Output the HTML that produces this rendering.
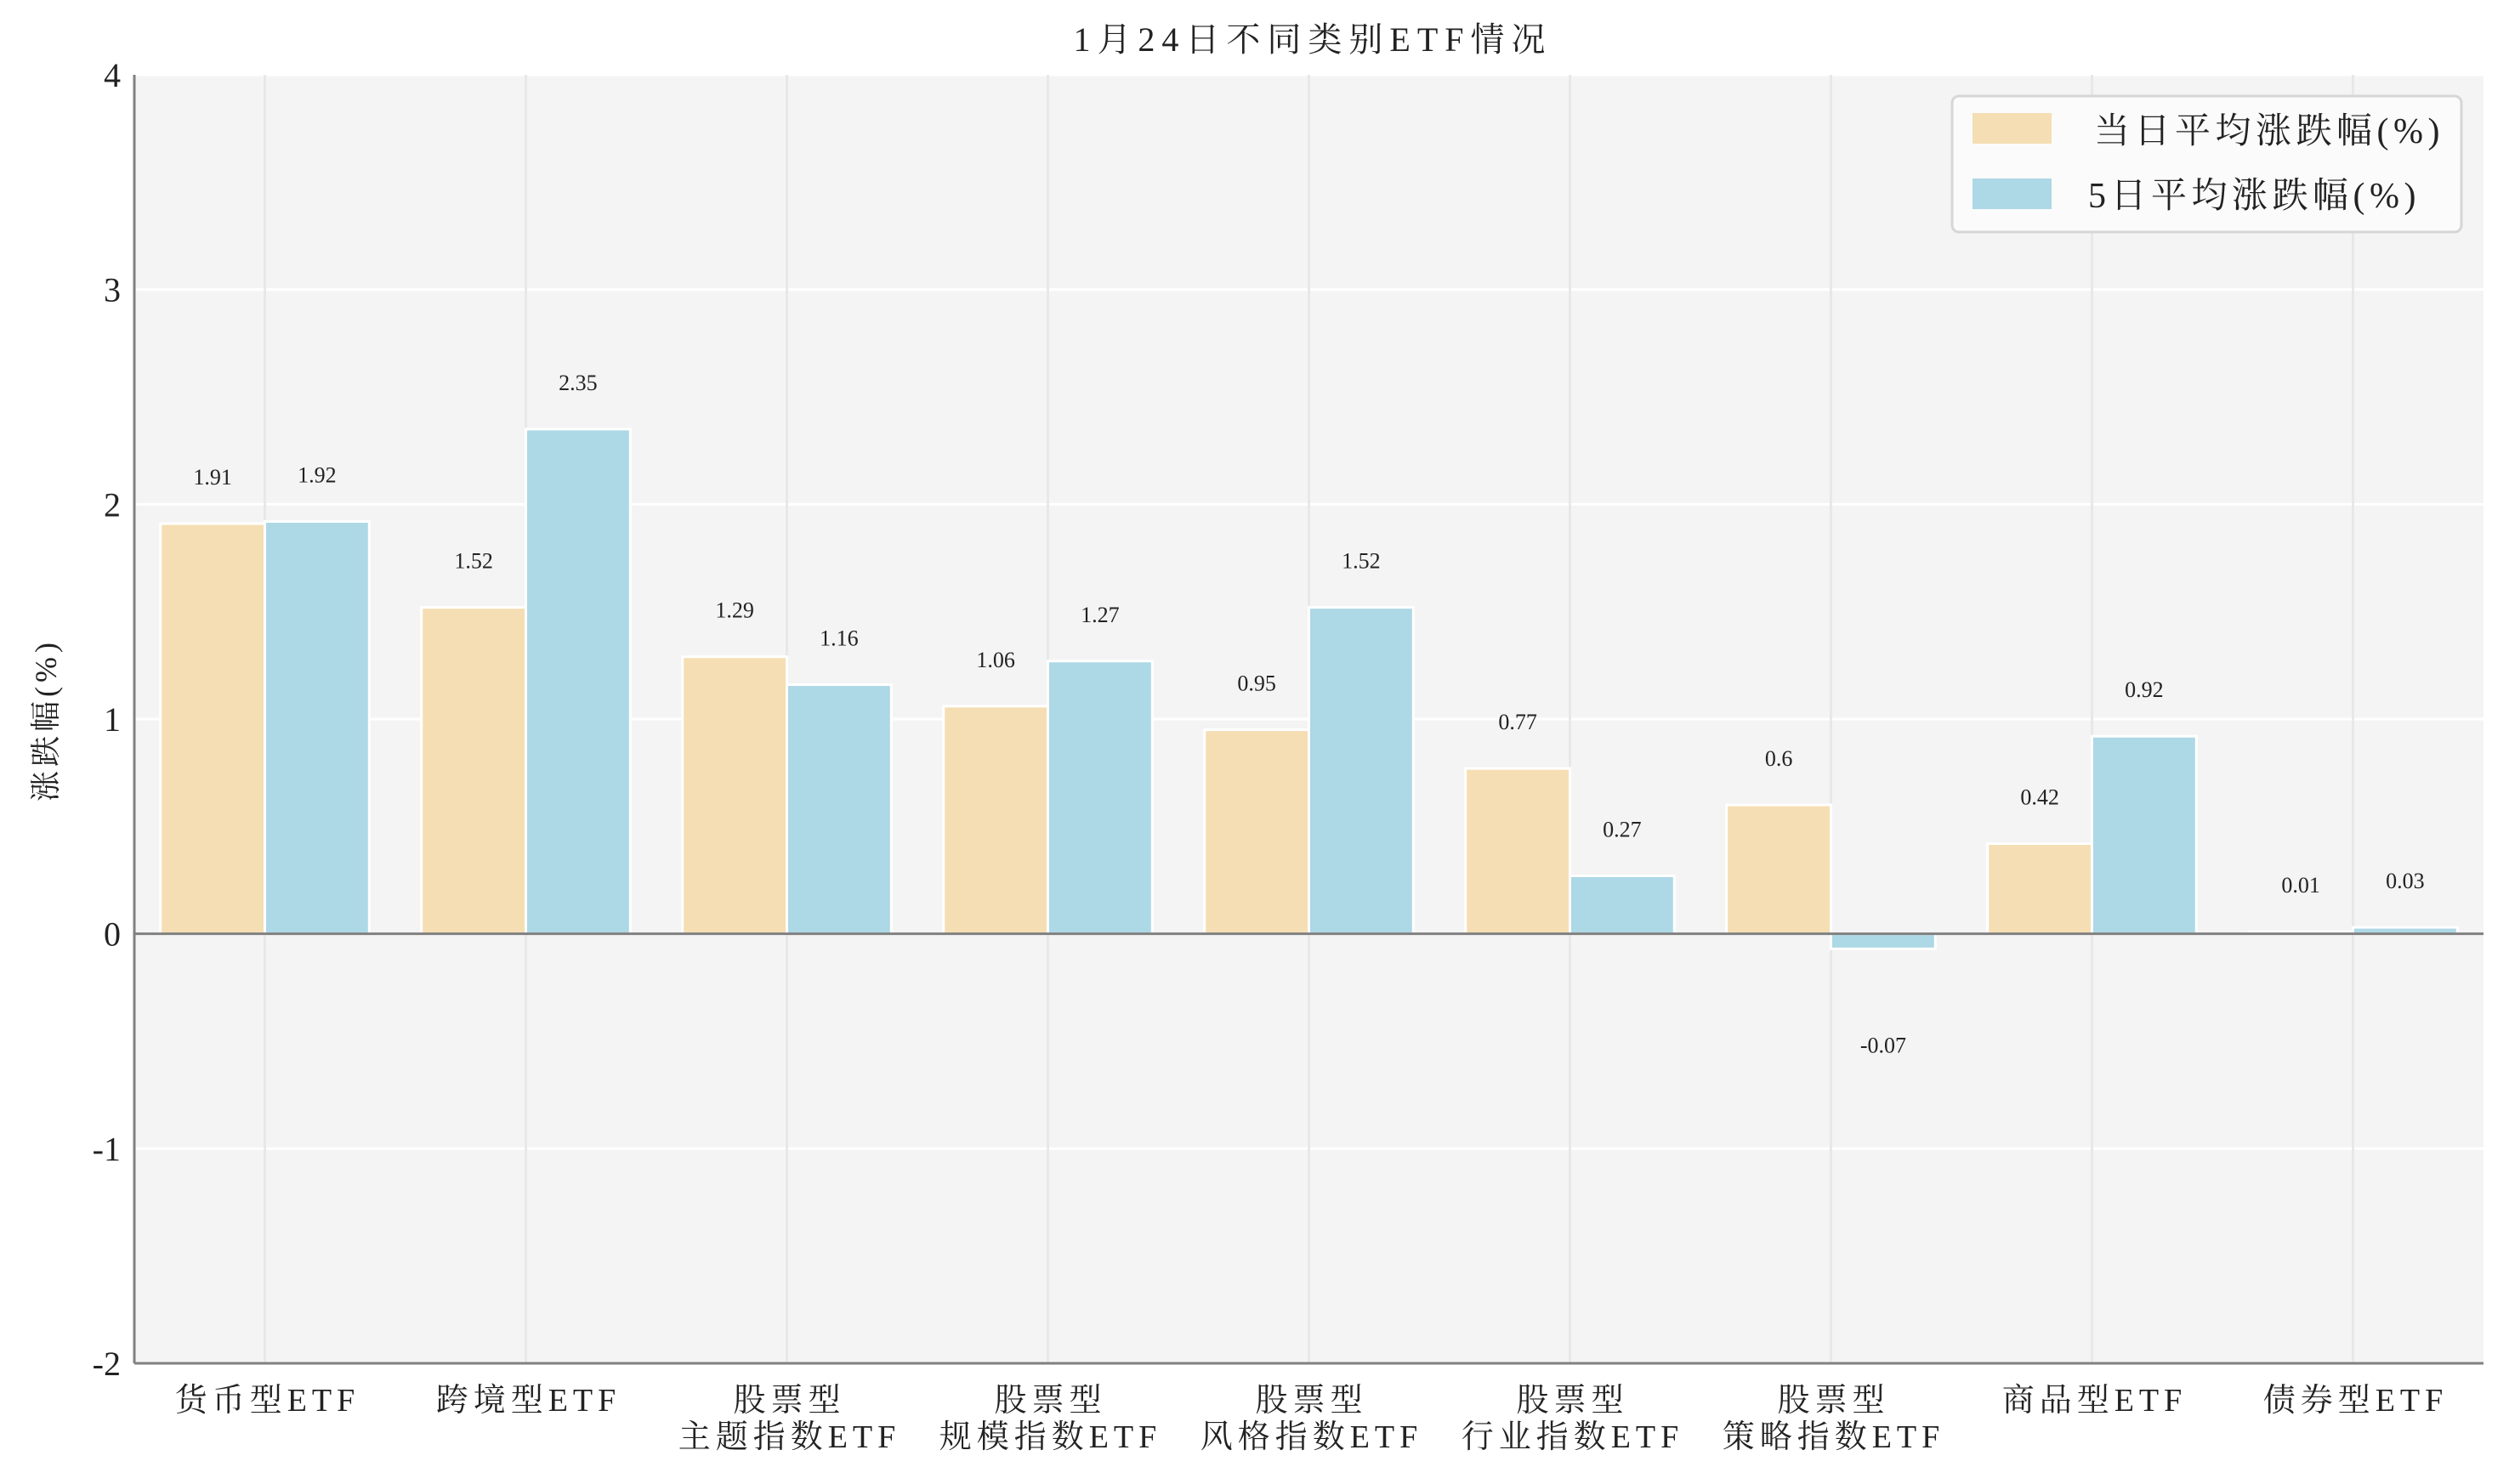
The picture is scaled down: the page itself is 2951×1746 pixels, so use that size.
<!DOCTYPE html>
<html><head><meta charset="utf-8"><style>
body{margin:0;background:#fff;}
svg{display:block;font-family:"Liberation Serif","Noto Serif CJK SC",serif;}
</style></head><body>
<svg id="chart" width="2951" height="1746" viewBox="0 0 2951 1746" xmlns="http://www.w3.org/2000/svg">
<rect x="158" y="88" width="2763" height="1516" fill="#f4f4f4"/>
<g id="grid"></g><g id="bars"></g><g id="labels"></g><g id="axes"></g>
<text x="1544" y="60" text-anchor="middle" font-size="40" letter-spacing="8" fill="#222">1月24日不同类别ETF情况</text>
<text transform="translate(66,847) rotate(-90)" text-anchor="middle" font-size="36" letter-spacing="5" fill="#222">涨跌幅(%)</text>
<g>
<rect x="2296" y="113" width="599" height="160" rx="8" fill="#fbfbfb" stroke="#d6d6d6" stroke-width="3"/>
<rect x="2320" y="133" width="93" height="36" fill="#f5deb3"/>
<text x="2463" y="168" font-size="42" letter-spacing="5.5" fill="#222">当日平均涨跌幅(%)</text>
<rect x="2320" y="210" width="93" height="36" fill="#add8e6"/>
<text x="2456" y="244" font-size="42" letter-spacing="5.5" fill="#222">5日平均涨跌幅(%)</text>
</g>
</svg>
<script>
const categories=[["货币型ETF"],["跨境型ETF"],["股票型","主题指数ETF"],["股票型","规模指数ETF"],["股票型","风格指数ETF"],["股票型","行业指数ETF"],["股票型","策略指数ETF"],["商品型ETF"],["债券型ETF"]];
const dailyValues=[1.91,1.52,1.29,1.06,0.95,0.77,0.6,0.42,0.01];
const fiveDayValues=[1.92,2.35,1.16,1.27,1.52,0.27,-0.07,0.92,0.03];
const yTicks=[-2,-1,0,1,2,3,4];
const NS="http://www.w3.org/2000/svg";
const L=158,R=2921,T=88,B=1604,yMin=-2,yMax=4;
const step=(R-L)/categories.length;
function xC(i){return L+step*(i+0.5);}
function yS(v){return B-(v-yMin)/(yMax-yMin)*(B-T);}
function mk(tag,attrs,parent,txt){const e=document.createElementNS(NS,tag);for(const k in attrs)e.setAttribute(k,attrs[k]);if(txt!==undefined)e.textContent=txt;parent.appendChild(e);return e;}
const grid=document.getElementById('grid'),bars=document.getElementById('bars'),labels=document.getElementById('labels'),axes=document.getElementById('axes');
yTicks.forEach(t=>{
  const g=mk('line',{x1:L,x2:R,y1:yS(t),y2:yS(t),stroke:'#ffffff','stroke-width':3},grid);
  
  
  const tx=mk('text',{x:L-16,y:yS(t)+14,'text-anchor':'end','font-size':40,fill:'#222'},axes,String(t));
  
  
});
categories.forEach((c,i)=>{
  const g=mk('line',{x1:xC(i),x2:xC(i),y1:T,y2:B,stroke:'#e8e8e8','stroke-width':3},grid);
  
  
  c.forEach((ln,j)=>{
    const t=mk('text',{x:xC(i)+3,y:1660+j*43,'text-anchor':'middle','font-size':38,'letter-spacing':6,fill:'#222'},axes,ln);
    
    
  });
});
const bw=step*0.4;
function drawBar(i,v,off,color,name){
  const y0=yS(0),yv=yS(v);
  const r=mk('rect',{x:xC(i)+off,y:Math.min(y0,yv),width:bw,height:Math.max(Math.abs(y0-yv),1),fill:color,stroke:'#ffffff','stroke-width':3},bars);
  
  
  const ly=v>=0?yv-55+9:yv+113+9;
  const t=mk('text',{x:xC(i)+off+bw/2,y:ly,'text-anchor':'middle','font-size':26,fill:'#222'},labels,String(v));
  
  
}
dailyValues.forEach((v,i)=>drawBar(i,v,-bw,'#f5deb3','bar-daily'));
fiveDayValues.forEach((v,i)=>drawBar(i,v,0,'#add8e6','bar-5day'));
const z=mk('line',{x1:L,x2:R,y1:yS(0),y2:yS(0),stroke:'#808080','stroke-width':3},axes);


const la=mk('line',{x1:L,x2:L,y1:T,y2:B,stroke:'#808080','stroke-width':3},axes);


const ba=mk('line',{x1:L,x2:R,y1:B,y2:B,stroke:'#808080','stroke-width':3},axes);


</script>
</body></html>
